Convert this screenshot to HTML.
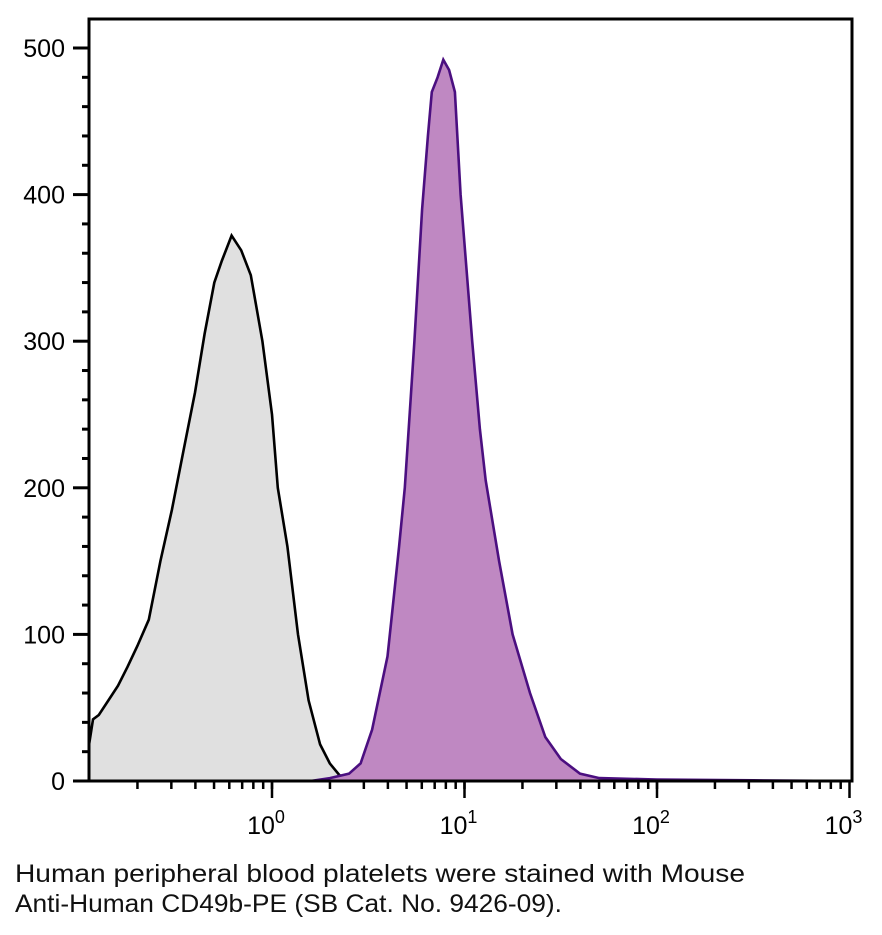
<!DOCTYPE html>
<html><head><meta charset="utf-8"><style>
body{margin:0;background:#fff;width:882px;height:930px;overflow:hidden;font-family:"Liberation Sans",sans-serif}
svg text{font-family:"Liberation Sans",sans-serif}
</style></head><body>
<svg id="chart" width="882" height="930" xmlns="http://www.w3.org/2000/svg">
<g id="marks"></g>
<g id="axes"></g>
<text x="15" y="882" font-size="25" textLength="730" lengthAdjust="spacingAndGlyphs" fill="#111">Human peripheral blood platelets were stained with Mouse</text>
<text x="15" y="912" font-size="25" textLength="547" lengthAdjust="spacingAndGlyphs" fill="#111">Anti-Human CD49b-PE (SB Cat. No. 9426-09).</text>
</svg>
<script>
const controlLog=[-0.95,-0.93,-0.9,-0.85,-0.8,-0.75,-0.7,-0.64,-0.58,-0.52,-0.46,-0.4,-0.35,-0.3,-0.26,-0.21,-0.16,-0.11,-0.05,0.0,0.03,0.08,0.135,0.19,0.25,0.3,0.35,0.4];
const controlCounts=[25,42,45,55,65,78,92,110,150,185,225,265,305,340,355,372,362,345,300,250,200,160,100,55,25,12,4,0];
const stainedLog=[0.2,0.3,0.4,0.46,0.52,0.56,0.6,0.62,0.66,0.69,0.72,0.74,0.78,0.81,0.83,0.86,0.89,0.92,0.95,0.98,1.01,1.04,1.08,1.11,1.18,1.25,1.34,1.42,1.5,1.6,1.7,2.0,2.5,3.0];
const stainedCounts=[0,2,5,12,35,60,85,110,160,200,260,300,390,440,470,480,492,485,470,400,350,300,240,205,150,100,60,30,15,5,2,1,0.5,0];
const yTicks=[0,100,200,300,400,500];
const xDecades=[0,1,2,3];
const L=89,R=852,T=19,B=781;
const xs=v=>272+(v)*192.5;
const ys=c=>B-c*(B-48)/500;
const NS="http://www.w3.org/2000/svg";
function el(t,a,p){const e=document.createElementNS(NS,t);for(const k in a)e.setAttribute(k,a[k]);p.appendChild(e);return e;}
const marks=document.getElementById('marks'),axes=document.getElementById('axes');
function series(lx,cy,fill,stroke,name){
  let d='M'+xs(lx[0])+','+B;
  lx.forEach((v,i)=>d+=' L'+xs(v).toFixed(1)+','+ys(cy[i]).toFixed(1));
  const dl=d.replace(/^M[^L]*L/,'M');
  const a=el('path',{d:d+' L'+xs(lx[lx.length-1])+','+B+' Z',fill:fill},marks);
  
  
  const l=el('path',{d:dl,fill:'none',stroke:stroke,'stroke-width':2.6},marks);
  
  
}
series(controlLog,controlCounts,'#e0e0e0','#000','control-histogram');
series(stainedLog,stainedCounts,'#bf88c2','#4b0f80','stained-histogram');
const f=el('rect',{x:L,y:T,width:R-L,height:B-T,fill:'none',stroke:'#000','stroke-width':3},axes);


for(let v=0;v<=500;v+=20){
  const major=yTicks.includes(v);
  el('line',{x1:major?73:82,x2:L,y1:ys(v),y2:ys(v),stroke:'#000','stroke-width':3},axes);
}
yTicks.forEach(v=>{const t=el('text',{x:65,y:ys(v)+9,'text-anchor':'end','font-size':25},axes);t.textContent=v;

});
for(let d=-1;d<3;d++)for(let m=1;m<=10;m++){
  const v=d+Math.log10(m);const x=xs(v);if(x<L||x>R)continue;
  const major=m===10;
  el('line',{x1:x,x2:x,y1:B,y2:B+(major?17:8),stroke:'#000','stroke-width':2.5},axes);
}
xDecades.forEach(p=>{const t=el('text',{x:xs(p)-6,y:834,'text-anchor':'middle','font-size':25},axes);


t.textContent='10';const s=el('tspan',{dy:-11,'font-size':18},t);s.textContent=p;});
</script>
</body></html>
